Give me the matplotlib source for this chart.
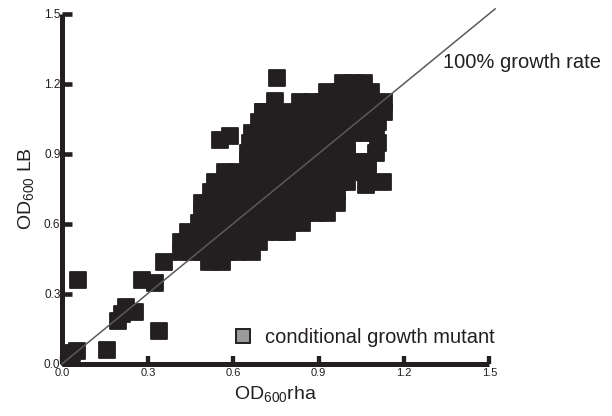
import matplotlib
matplotlib.use("Agg")
import matplotlib.pyplot as plt
from matplotlib.lines import Line2D
from matplotlib.markers import MarkerStyle
import numpy as np

plt.rcParams["font.family"] = ["Liberation Sans", "DejaVu Sans"]
plt.rcParams["mathtext.default"] = "regular"

INK = "#231f20"

# OD600 in LB for each row of the dense cluster, with the OD600 in rha for the strains in that row
lb_levels = [1.204, 1.162, 1.119, 1.076, 1.033, 0.990, 0.947, 0.904, 0.862,
             0.819, 0.776, 0.733, 0.690, 0.647, 0.604, 0.562, 0.519, 0.476, 0.433]
rha_by_level = [
    [0.985, 1.02, 1.06],
    [0.93, 0.97, 1.01, 1.05, 1.085],
    [0.835, 0.875, 0.915, 0.955, 0.995, 1.035, 1.075, 1.13],
    [0.705, 0.745, 0.79, 0.83, 0.87, 0.91, 0.95, 0.99, 1.03, 1.07, 1.105, 1.13],
    [0.69, 0.73, 0.77, 0.81, 0.85, 0.89, 0.93, 0.97, 1.01, 1.05, 1.09, 1.11],
    [0.665, 0.705, 0.745, 0.785, 0.825, 0.865, 0.905, 0.945, 0.985, 1.025, 1.065, 1.10],
    [0.66, 0.70, 0.74, 0.78, 0.82, 0.86, 0.90, 0.94, 0.98, 1.0, 1.11],
    [0.65, 0.69, 0.73, 0.77, 0.81, 0.85, 0.89, 0.93, 0.97, 1.0, 1.10],
    [0.65, 0.69, 0.73, 0.77, 0.81, 0.85, 0.89, 0.93, 0.97, 1.01, 1.05, 1.075],
    [0.57, 0.61, 0.65, 0.69, 0.73, 0.77, 0.81, 0.85, 0.89, 0.93, 0.97, 1.01, 1.05, 1.075],
    [0.535, 0.575, 0.615, 0.655, 0.695, 0.735, 0.775, 0.815, 0.855, 0.895, 0.935, 0.975, 1.0],
    [0.52, 0.56, 0.60, 0.64, 0.68, 0.72, 0.76, 0.80, 0.84, 0.88, 0.92, 0.965],
    [0.49, 0.53, 0.57, 0.61, 0.65, 0.69, 0.73, 0.77, 0.81, 0.85, 0.89, 0.93, 0.965],
    [0.49, 0.53, 0.57, 0.61, 0.65, 0.69, 0.73, 0.77, 0.81, 0.85, 0.89, 0.93],
    [0.48, 0.52, 0.56, 0.60, 0.64, 0.68, 0.72, 0.76, 0.80, 0.84],
    [0.44, 0.48, 0.52, 0.56, 0.60, 0.64, 0.68, 0.72, 0.76, 0.79],
    [0.415, 0.455, 0.495, 0.535, 0.575, 0.615, 0.655, 0.69],
    [0.415, 0.455, 0.495, 0.535, 0.575, 0.615, 0.665],
    [0.514, 0.56],
]

# strains lying apart from the main cloud
extra_rha = [0.025, 0.032, 0.05, 0.053, 0.155, 0.34, 0.194, 0.208, 0.222, 0.254,
             0.278, 0.324, 0.356, 0.754, 0.746, 0.704, 0.553, 0.588, 1.067, 1.127]
extra_lb = [0.026, 0.047, 0.054, 0.356, 0.056, 0.141, 0.184, 0.214, 0.244, 0.219,
            0.36, 0.347, 0.433, 1.222, 1.127, 1.076, 0.956, 0.977, 0.767, 0.78]

ticks = [0.0, 0.3, 0.6, 0.9, 1.2, 1.5]
tick_labels = ["0.0", "0.3", "0.6", "0.9", "1.2", "1.5"]
diag = [0.0, 1.52]

rha = np.concatenate([np.concatenate(rha_by_level), extra_rha])
lb = np.concatenate([np.concatenate([[y] * len(xs) for y, xs in zip(lb_levels, rha_by_level)]), extra_lb])

fig = plt.figure(figsize=(6.12, 4.16), dpi=100)
ax = fig.add_axes([0.1021, 0.1262, 0.6977, 0.8413])

square = MarkerStyle("s", joinstyle="round")
ax.plot(rha, lb, linestyle="none", marker=square, ms=11, mfc=INK, mec=INK, mew=1.3,
        clip_on=False, zorder=3)
ax.plot(diag, diag, color="#5a5a5a", lw=1.1, clip_on=False, zorder=4)

ax.text(1.336, 1.288, "100% growth rate", fontsize=14.5, color=INK, va="center", ha="left")

mutant = Line2D([], [], linestyle="none", marker="s", ms=10, mfc="#9a9a9a", mec=INK, mew=1.4,
                label="conditional growth mutant")
ax.legend(handles=[mutant], loc="center left", bbox_to_anchor=(0.375, 0.075), frameon=False,
          fontsize=14.5, handlelength=1.0, handletextpad=0.6, borderpad=0, labelcolor=INK)

ax.set_xlim(0, 1.5)
ax.set_ylim(0, 1.5)
ax.set_xticks(ticks)
ax.set_yticks(ticks)
ax.set_xticklabels(tick_labels, fontsize=8)
ax.set_yticklabels(tick_labels, fontsize=8.5)
ax.tick_params(axis="x", direction="in", length=6, width=3.1, color=INK, labelcolor=INK, pad=3.5)
ax.tick_params(axis="y", direction="in", length=7.5, width=3.3, color=INK, labelcolor=INK, pad=1.5)

for side in ("top", "right"):
    ax.spines[side].set_visible(False)
for side in ("left", "bottom"):
    ax.spines[side].set_linewidth(3.6)
    ax.spines[side].set_color(INK)
    ax.spines[side].set_capstyle("butt")

ax.set_xlabel("OD$_{600}$rha", fontsize=14, color=INK, labelpad=4)
ax.set_ylabel("OD$_{600}$ LB", fontsize=14, color=INK, labelpad=6)

fig.savefig("out.png", dpi=100)
